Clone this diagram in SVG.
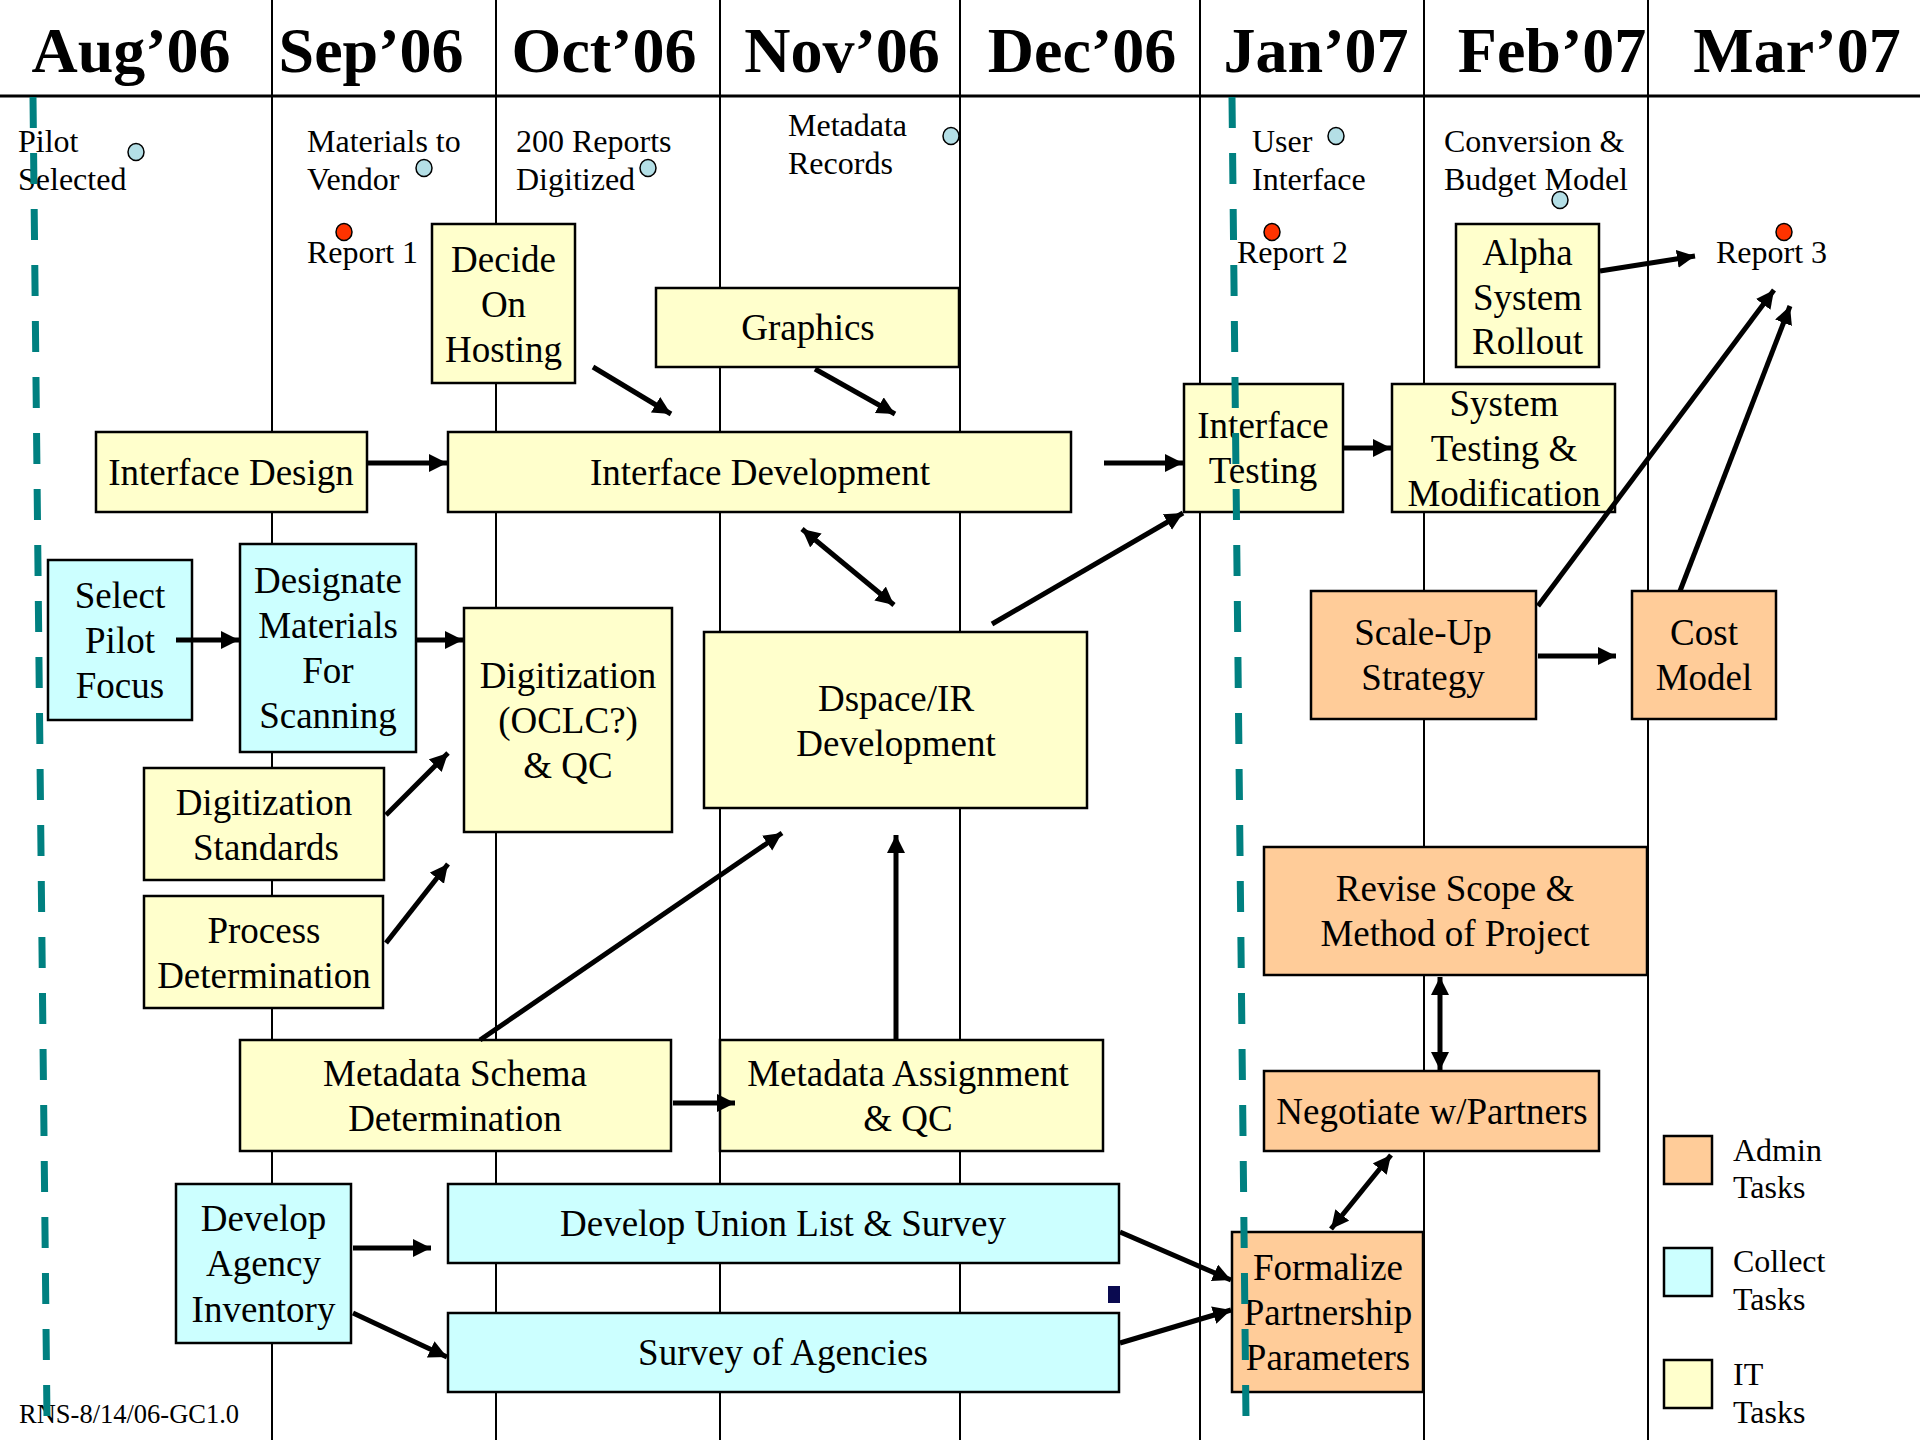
<svg xmlns="http://www.w3.org/2000/svg" width="1920" height="1440" viewBox="0 0 1920 1440">
<style>
.hdr{font-family:"Liberation Serif","Times New Roman",serif;font-weight:bold;font-size:64px;text-anchor:middle;fill:#000}
.ms{font-family:"Liberation Serif","Times New Roman",serif;font-size:32px;fill:#000}
.bt{font-family:"Liberation Serif","Times New Roman",serif;font-size:37px;text-anchor:middle;fill:#000}
.grid{stroke:#000;stroke-width:2}
.it{fill:#ffffcc;stroke:#000;stroke-width:2.5}
.col{fill:#ccffff;stroke:#000;stroke-width:2.5}
.adm{fill:#ffcc99;stroke:#000;stroke-width:2.5}
.mb{fill:#b4dfe6;stroke:#000;stroke-width:1.5}
.mr{fill:#ff3300;stroke:#000;stroke-width:1.5}
.arr{stroke:#000;stroke-width:5;fill:none;marker-end:url(#ah)}
.dbl{stroke:#000;stroke-width:5;fill:none;marker-end:url(#ah);marker-start:url(#ah)}
.teal{stroke:#008080;stroke-width:7;stroke-dasharray:31 25;fill:none}
</style>
<defs>
<marker id="ah" markerUnits="userSpaceOnUse" markerWidth="20" markerHeight="20" refX="18" refY="9" orient="auto-start-reverse">
<path d="M0,0 L18,9 L0,18 z" fill="#000"/>
</marker>
</defs>
<rect x="0" y="0" width="1920" height="1440" fill="#fff"/>
<g id="grid">
<line class="grid" x1="272" y1="0" x2="272" y2="1440"/>
<line class="grid" x1="496" y1="0" x2="496" y2="1440"/>
<line class="grid" x1="720" y1="0" x2="720" y2="1440"/>
<line class="grid" x1="960" y1="0" x2="960" y2="1440"/>
<line class="grid" x1="1200" y1="0" x2="1200" y2="1440"/>
<line class="grid" x1="1424" y1="0" x2="1424" y2="1440"/>
<line class="grid" x1="1648" y1="0" x2="1648" y2="1440"/>
<line x1="0" y1="96" x2="1920" y2="96" stroke="#000" stroke-width="3"/>
</g>
<g id="header">
<text class="hdr" x="131" y="72">Aug’06</text>
<text class="hdr" x="371" y="72">Sep’06</text>
<text class="hdr" x="604" y="72">Oct’06</text>
<text class="hdr" x="842" y="72">Nov’06</text>
<text class="hdr" x="1082" y="72">Dec’06</text>
<text class="hdr" x="1316" y="72">Jan’07</text>
<text class="hdr" x="1552" y="72">Feb’07</text>
<text class="hdr" x="1797" y="72">Mar’07</text>
</g>
<g id="milestones">
<g id="m-pilot"><text class="ms" x="18" y="152">Pilot</text><text class="ms" x="18" y="190">Selected</text><ellipse class="mb" cx="136" cy="152" rx="8" ry="8.5"/></g>
<g id="m-materials"><text class="ms" x="307" y="152">Materials to</text><text class="ms" x="307" y="190">Vendor</text><ellipse class="mb" cx="424" cy="168" rx="8" ry="8.5"/></g>
<g id="m-200"><text class="ms" x="516" y="152">200 Reports</text><text class="ms" x="516" y="190">Digitized</text><ellipse class="mb" cx="648" cy="168" rx="8" ry="8.5"/></g>
<g id="m-metadata"><text class="ms" x="788" y="136">Metadata</text><text class="ms" x="788" y="174">Records</text><ellipse class="mb" cx="951" cy="136" rx="8" ry="8.5"/></g>
<g id="m-report1"><ellipse class="mr" cx="344" cy="232" rx="8" ry="8.5"/><text class="ms" x="307" y="263">Report 1</text></g>
<g id="m-user"><text class="ms" x="1252" y="152">User</text><text class="ms" x="1252" y="190">Interface</text><ellipse class="mb" cx="1336" cy="136" rx="8" ry="8.5"/></g>
<g id="m-conv"><text class="ms" x="1444" y="152">Conversion &amp;</text><text class="ms" x="1444" y="190">Budget Model</text><ellipse class="mb" cx="1560" cy="200" rx="8" ry="8.5"/></g>
<g id="m-report2"><ellipse class="mr" cx="1272" cy="232" rx="8" ry="8.5"/><text class="ms" x="1237" y="263">Report 2</text></g>
<g id="m-report3"><ellipse class="mr" cx="1784" cy="232" rx="8" ry="8.5"/><text class="ms" x="1716" y="263">Report 3</text></g>
</g>
<g id="n-decide"><rect class="it" x="432" y="224" width="143" height="159"/><text class="bt" x="503.5" y="272">Decide</text><text class="bt" x="503.5" y="317">On</text><text class="bt" x="503.5" y="362">Hosting</text></g>
<g id="n-graphics"><rect class="it" x="656" y="288" width="303" height="79"/><text class="bt" x="808" y="340">Graphics</text></g>
<g id="n-idesign"><rect class="it" x="96" y="432" width="271" height="80"/><text class="bt" x="231" y="485">Interface Design</text></g>
<g id="n-idev"><rect class="it" x="448" y="432" width="623" height="80"/><text class="bt" x="760" y="485">Interface Development</text></g>
<g id="n-itest"><rect class="it" x="1184" y="384" width="159" height="128"/><text class="bt" x="1263" y="438">Interface</text><text class="bt" x="1263" y="483">Testing</text></g>
<g id="n-systest"><rect class="it" x="1392" y="384" width="223" height="128"/><text class="bt" x="1504" y="416">System</text><text class="bt" x="1504" y="461">Testing &amp;</text><text class="bt" x="1504" y="506">Modification</text></g>
<g id="n-alpha"><rect class="it" x="1456" y="224" width="143" height="143"/><text class="bt" x="1527.5" y="265">Alpha</text><text class="bt" x="1527.5" y="310">System</text><text class="bt" x="1527.5" y="354">Rollout</text></g>
<g id="n-select"><rect class="col" x="48" y="560" width="144" height="160"/><text class="bt" x="120" y="608">Select</text><text class="bt" x="120" y="653">Pilot</text><text class="bt" x="120" y="698">Focus</text></g>
<g id="n-designate"><rect class="col" x="240" y="544" width="176" height="208"/><text class="bt" x="328" y="593">Designate</text><text class="bt" x="328" y="638">Materials</text><text class="bt" x="328" y="683">For</text><text class="bt" x="328" y="728">Scanning</text></g>
<g id="n-digit"><rect class="it" x="464" y="608" width="208" height="224"/><text class="bt" x="568" y="688">Digitization</text><text class="bt" x="568" y="733">(OCLC?)</text><text class="bt" x="568" y="778">&amp; QC</text></g>
<g id="n-dspace"><rect class="it" x="704" y="632" width="383" height="176"/><text class="bt" x="896" y="711">Dspace/IR</text><text class="bt" x="896" y="756">Development</text></g>
<g id="n-dstd"><rect class="it" x="144" y="768" width="240" height="112"/><text class="bt" x="264" y="815">Digitization</text><text class="bt" x="266" y="860">Standards</text></g>
<g id="n-process"><rect class="it" x="144" y="896" width="239" height="112"/><text class="bt" x="264" y="943">Process</text><text class="bt" x="264" y="988">Determination</text></g>
<g id="n-mschema"><rect class="it" x="240" y="1040" width="431" height="111"/><text class="bt" x="455" y="1086">Metadata Schema</text><text class="bt" x="455" y="1131">Determination</text></g>
<g id="n-massign"><rect class="it" x="720" y="1040" width="383" height="111"/><text class="bt" x="908" y="1086">Metadata Assignment</text><text class="bt" x="908" y="1131">&amp; QC</text></g>
<g id="n-agency"><rect class="col" x="176" y="1184" width="175" height="159"/><text class="bt" x="263.5" y="1231">Develop</text><text class="bt" x="263.5" y="1276">Agency</text><text class="bt" x="263.5" y="1322">Inventory</text></g>
<g id="n-union"><rect class="col" x="448" y="1184" width="671" height="79"/><text class="bt" x="783" y="1236">Develop Union List &amp; Survey</text></g>
<g id="n-survey"><rect class="col" x="448" y="1313" width="671" height="79"/><text class="bt" x="783" y="1365">Survey of Agencies</text></g>
<g id="n-formalize"><rect class="adm" x="1232" y="1232" width="191" height="160"/><text class="bt" x="1328" y="1280">Formalize</text><text class="bt" x="1328" y="1325">Partnership</text><text class="bt" x="1328" y="1370">Parameters</text></g>
<g id="n-negotiate"><rect class="adm" x="1264" y="1071" width="335" height="80"/><text class="bt" x="1432" y="1124">Negotiate w/Partners</text></g>
<g id="n-revise"><rect class="adm" x="1264" y="847" width="383" height="128"/><text class="bt" x="1455" y="901">Revise Scope &amp;</text><text class="bt" x="1455" y="946">Method of Project</text></g>
<g id="n-scaleup"><rect class="adm" x="1311" y="591" width="225" height="128"/><text class="bt" x="1423" y="645">Scale-Up</text><text class="bt" x="1423" y="690">Strategy</text></g>
<g id="n-cost"><rect class="adm" x="1632" y="591" width="144" height="128"/><text class="bt" x="1704" y="645">Cost</text><text class="bt" x="1704" y="690">Model</text></g>
<g id="connectors">
<line class="arr" x1="367" y1="463" x2="447" y2="463"/>
<line class="arr" x1="593" y1="367" x2="671" y2="414"/>
<line class="arr" x1="815" y1="369" x2="895" y2="414"/>
<line class="arr" x1="1104" y1="463" x2="1183" y2="463"/>
<line class="arr" x1="1344" y1="448" x2="1391" y2="448"/>
<line class="arr" x1="1600" y1="271" x2="1695" y2="256"/>
<line class="arr" x1="1538" y1="606" x2="1774" y2="290"/>
<line class="arr" x1="1680" y1="591" x2="1790" y2="306"/>
<line class="arr" x1="1538" y1="656" x2="1616" y2="656"/>
<line class="dbl" x1="802" y1="529" x2="894" y2="605"/>
<line class="arr" x1="992" y1="624" x2="1183" y2="513"/>
<line class="arr" x1="176" y1="640" x2="239" y2="640"/>
<line class="arr" x1="416" y1="640" x2="463" y2="640"/>
<line class="arr" x1="386" y1="815" x2="448" y2="753"/>
<line class="arr" x1="386" y1="943" x2="448" y2="864"/>
<line class="arr" x1="480" y1="1040" x2="782" y2="833"/>
<line class="arr" x1="896" y1="1040" x2="896" y2="835"/>
<line class="arr" x1="673" y1="1103" x2="735" y2="1103"/>
<line class="dbl" x1="1440" y1="977" x2="1440" y2="1070"/>
<line class="dbl" x1="1331" y1="1229" x2="1391" y2="1155"/>
<line class="arr" x1="1120" y1="1232" x2="1231" y2="1280"/>
<line class="arr" x1="1120" y1="1343" x2="1231" y2="1310"/>
<line class="arr" x1="353" y1="1248" x2="431" y2="1248"/>
<line class="arr" x1="353" y1="1313" x2="447" y2="1357"/>
</g>
<rect x="1108" y="1286" width="12" height="17" fill="#0a0a50"/>
<g id="legend">
<rect class="adm" x="1664" y="1136" width="48" height="48"/><text class="ms" x="1733" y="1161">Admin</text><text class="ms" x="1733" y="1198">Tasks</text>
<rect class="col" x="1664" y="1248" width="48" height="48"/><text class="ms" x="1733" y="1272">Collect</text><text class="ms" x="1733" y="1310">Tasks</text>
<rect class="it" x="1664" y="1360" width="48" height="48"/><text class="ms" x="1733" y="1385">IT</text><text class="ms" x="1733" y="1423">Tasks</text>
</g>
<text x="19" y="1423" font-family="Liberation Serif, Times New Roman, serif" font-size="26.5" fill="#000">RNS-8/14/06-GC1.0</text>
<g id="today-lines">
<line class="teal" x1="33" y1="97" x2="47" y2="1420"/>
<line class="teal" x1="1232" y1="97" x2="1246" y2="1420"/>
</g>
</svg>
